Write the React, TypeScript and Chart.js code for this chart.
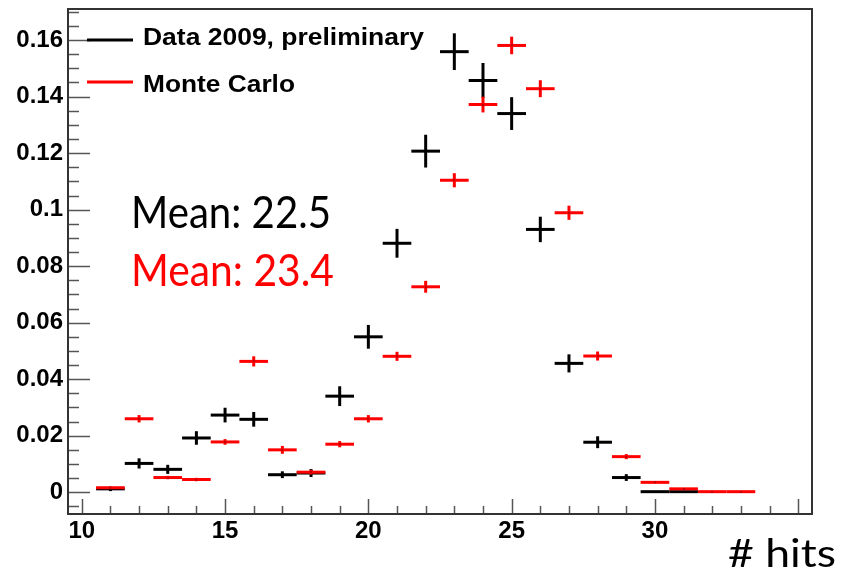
import React, { useEffect, useRef } from 'react';
import { Chart, registerables } from 'chart.js';

Chart.register(...registerables);

// ---- data ----
const dataBins = [11, 12, 13, 14, 15, 16, 17, 18, 19, 20, 21, 22, 23, 24, 25, 26, 27, 28, 29, 30, 31];
const dataValues = [0.0012, 0.0102, 0.0081, 0.0192, 0.0273, 0.0258, 0.0062, 0.0068, 0.0340, 0.0550, 0.0881, 0.1207, 0.1559, 0.1457, 0.1340, 0.0930, 0.0456, 0.0177, 0.0052, 0.0002, 0.0002];
const dataErrors = [0.0008, 0.0018, 0.0016, 0.0024, 0.0026, 0.0026, 0.0012, 0.0014, 0.0035, 0.0042, 0.0051, 0.0058, 0.0065, 0.0062, 0.0058, 0.0045, 0.0032, 0.0021, 0.0012, 0, 0];

const mcBins = [11, 12, 13, 14, 15, 16, 17, 18, 19, 20, 21, 22, 23, 24, 25, 26, 27, 28, 29, 30, 31, 32, 33];
const mcValues = [0.0016, 0.0260, 0.0052, 0.0045, 0.0178, 0.0463, 0.0150, 0.0071, 0.0170, 0.0260, 0.0481, 0.0727, 0.1104, 0.1372, 0.1581, 0.1428, 0.0989, 0.0482, 0.0126, 0.0035, 0.0012, 0.0002, 0.0002];
const mcErrors = [0.0003, 0.0013, 0.0006, 0.0006, 0.0010, 0.0018, 0.0014, 0.0008, 0.0011, 0.0013, 0.0016, 0.0021, 0.0025, 0.0028, 0.0031, 0.0030, 0.0025, 0.0016, 0.0009, 0.0004, 0.0003, 0.0001, 0.0001];

const seriesLabels = ['Data 2009, preliminary', 'Monte Carlo'];
const meanLabels = ['Mean: 22.5', 'Mean: 23.4'];
const xTitle = '# hits';
const xTickValues = [10, 15, 20, 25, 30];
const yTickValues = [0, 0.02, 0.04, 0.06, 0.08, 0.1, 0.12, 0.14, 0.16];

const X_MIN = 9.52;
const X_MAX = 35.48;
const Y_MIN = -0.0077;
const Y_MAX = 0.171;
const BIN_WIDTH = 1;

const COLORS = ['#000000', '#ff0000'];

function drawScaledText(ctx: CanvasRenderingContext2D, text: string, x: number, y: number, targetWidth: number) {
  const w = ctx.measureText(text).width;
  const sx = targetWidth / w;
  ctx.save();
  ctx.translate(x, y);
  ctx.scale(sx, 1);
  ctx.fillText(text, 0, 0);
  ctx.restore();
}

const rootPlugin = {
  id: 'rootStyle',
  afterDatasetsDraw(chart: any) {
    const ctx: CanvasRenderingContext2D = chart.ctx;
    const xs = chart.scales.x;
    const ys = chart.scales.y;
    const area = chart.chartArea;
    ctx.save();
    ctx.beginPath();
    ctx.rect(area.left, area.top, area.right - area.left, area.bottom - area.top);
    ctx.clip();
    chart.data.datasets.forEach((ds: any) => {
      const errs = ds.errors as number[];
      ctx.strokeStyle = ds.borderColor;
      ctx.lineWidth = 3;
      ctx.lineCap = 'butt';
      ds.data.forEach((p: any, j: number) => {
        const xl = xs.getPixelForValue(p.x - BIN_WIDTH / 2);
        const xr = xs.getPixelForValue(p.x + BIN_WIDTH / 2);
        const xc = xs.getPixelForValue(p.x);
        const yc = ys.getPixelForValue(p.y);
        ctx.beginPath();
        ctx.moveTo(xl, yc);
        ctx.lineTo(xr, yc);
        ctx.stroke();
        const e = errs[j];
        if (e > 0) {
          const yt = ys.getPixelForValue(p.y + e);
          const yb = ys.getPixelForValue(p.y - e);
          ctx.beginPath();
          ctx.moveTo(xc, yt);
          ctx.lineTo(xc, yb);
          ctx.stroke();
        }
        ctx.fillStyle = '#000';
        ctx.fillRect(Math.round(xc) - 0.5, Math.round(yc) - 0.5, 1, 1);
      });
    });
    ctx.restore();
  },
  afterDraw(chart: any) {
    const ctx: CanvasRenderingContext2D = chart.ctx;
    const xs = chart.scales.x;
    const ys = chart.scales.y;
    const area = chart.chartArea;
    ctx.save();
    // inward tick marks
    ctx.strokeStyle = '#555';
    ctx.lineWidth = 1.5;
    for (let v = Math.ceil(X_MIN); v <= X_MAX; v += 1) {
      const px = Math.round(xs.getPixelForValue(v)) + 0.5;
      const len = v % 5 === 0 ? 15 : 8;
      ctx.beginPath();
      ctx.moveTo(px, area.bottom);
      ctx.lineTo(px, area.bottom - len);
      ctx.stroke();
    }
    for (let k = Math.ceil(Y_MIN / 0.005); k * 0.005 <= Y_MAX; k++) {
      const v = k * 0.005;
      const py = Math.round(ys.getPixelForValue(v)) + 0.5;
      const len = k % 4 === 0 ? 22 : 11;
      ctx.beginPath();
      ctx.moveTo(area.left, py);
      ctx.lineTo(area.left + len, py);
      ctx.stroke();
    }
    // frame
    ctx.strokeStyle = '#333';
    ctx.lineWidth = 2;
    ctx.strokeRect(area.left, area.top, area.right - area.left, area.bottom - area.top);

    // legend
    const legendY = [40, 82];
    const legendBase = [45, 92];
    const legendW = [281, 152];
    chart.data.datasets.forEach((ds: any, i: number) => {
      ctx.strokeStyle = ds.borderColor;
      ctx.lineWidth = 3;
      ctx.beginPath();
      ctx.moveTo(87, legendY[i]);
      ctx.lineTo(133, legendY[i]);
      ctx.stroke();
      ctx.fillStyle = '#000';
      ctx.font = 'bold 24px "Liberation Sans", Arial, sans-serif';
      ctx.textBaseline = 'alphabetic';
      ctx.textAlign = 'left';
      drawScaledText(ctx, ds.label, 143, legendBase[i], legendW[i]);
    });
    // means
    ctx.font = '45px Lato, "Open Sans", sans-serif';
    ctx.fillStyle = COLORS[0];
    drawScaledText(ctx, meanLabels[0], 131, 228, 200);
    ctx.fillStyle = COLORS[1];
    drawScaledText(ctx, meanLabels[1], 131, 286, 203);
    // x title
    ctx.fillStyle = '#000';
    ctx.font = '38px Lato, "Open Sans", sans-serif';
    drawScaledText(ctx, xTitle, 728, 567, 108);
    ctx.restore();
  },
};

export default function App() {
  const ref = useRef<HTMLCanvasElement | null>(null);
  useEffect(() => {
    if (!ref.current) return;
    const chart = new Chart(ref.current, {
      type: 'scatter',
      data: {
        datasets: [
          {
            label: seriesLabels[0],
            data: dataBins.map((b, i) => ({ x: b, y: dataValues[i] })),
            errors: dataErrors,
            borderColor: COLORS[0],
            backgroundColor: COLORS[0],
            pointRadius: 0,
            showLine: false,
          } as any,
          {
            label: seriesLabels[1],
            data: mcBins.map((b, i) => ({ x: b, y: mcValues[i] })),
            errors: mcErrors,
            borderColor: COLORS[1],
            backgroundColor: COLORS[1],
            pointRadius: 0,
            showLine: false,
          } as any,
        ],
      },
      options: {
        responsive: false,
        animation: false,
        layout: { padding: { top: 9, right: 30, left: 0, bottom: 0 } },
        plugins: { legend: { display: false }, tooltip: { enabled: false } },
        scales: {
          x: {
            type: 'linear',
            min: X_MIN,
            max: X_MAX,
            grid: { display: false, drawTicks: false },
            border: { display: false },
            afterBuildTicks: (s: any) => {
              s.ticks = xTickValues.map((v) => ({ value: v }));
            },
            afterFit: (s: any) => {
              s.height = 62;
              s.paddingLeft = 0;
              s.paddingRight = 0;
            },
            ticks: {
              padding: 3,
              maxRotation: 0,
              autoSkip: false,
              color: '#000',
              font: { family: '"Liberation Sans", Arial, sans-serif', weight: 'bold', size: 24 },
              callback: (v: any) => String(v),
            },
          },
          y: {
            type: 'linear',
            min: Y_MIN,
            max: Y_MAX,
            grid: { display: false, drawTicks: false },
            border: { display: false },
            afterBuildTicks: (s: any) => {
              s.ticks = yTickValues.map((v) => ({ value: v }));
            },
            afterFit: (s: any) => {
              s.width = 68;
              s.paddingTop = 0;
              s.paddingBottom = 0;
            },
            ticks: {
              padding: 5,
              autoSkip: false,
              color: '#000',
              font: { family: '"Liberation Sans", Arial, sans-serif', weight: 'bold', size: 24 },
              callback: (v: any) => String(parseFloat(Number(v).toFixed(3))),
            },
          },
        },
      } as any,
      plugins: [rootPlugin],
    });
    return () => chart.destroy();
  }, []);
  return (
    <div style={{ position: 'fixed', left: 0, top: 0, width: 842, height: 576, background: '#fff' }}>
      <canvas ref={ref} width={842} height={576} style={{ display: 'block' }} />
    </div>
  );
}
